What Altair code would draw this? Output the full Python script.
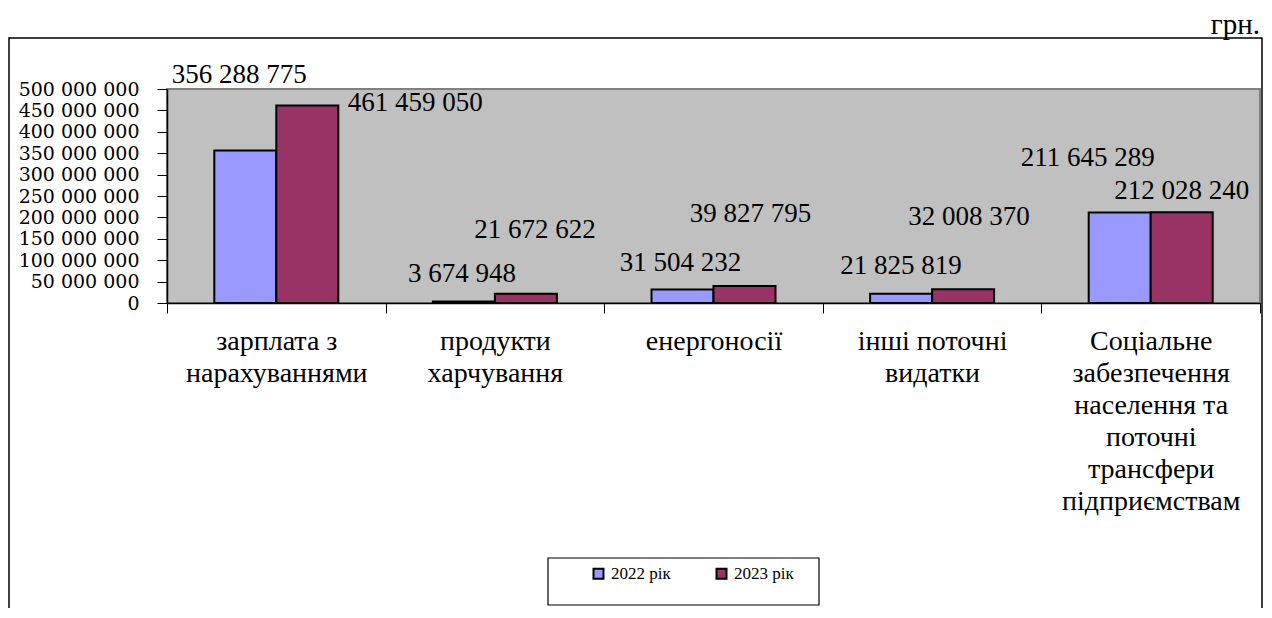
import altair as alt
import pandas as pd

# ---- data ----
categories = [
    "зарплата з\nнарахуваннями",
    "продукти\nхарчування",
    "енергоносії",
    "інші поточні\nвидатки",
    "Соціальне\nзабезпечення\nнаселення та\nпоточні\nтрансфери\nпідприємствам",
]
series = ["2022 рік", "2023 рік"]
values_2022 = [356288775, 3674948, 31504232, 21825819, 211645289]
values_2023 = [461459050, 21672622, 39827795, 32008370, 212028240]
y_ticks = [0, 50000000, 100000000, 150000000, 200000000, 250000000,
           300000000, 350000000, 400000000, 450000000, 500000000]
unit_label = "грн."
colors = ["#9999FF", "#993366"]

rows = []
for i, c in enumerate(categories):
    for s, vals in zip(series, [values_2022, values_2023]):
        v = vals[i]
        rows.append({"cat": c, "year": s, "value": v,
                     "label": f"{v:,}".replace(",", " ")})
df = pd.DataFrame(rows)
one = pd.DataFrame({"k": [0]})

# label placement offsets (px) relative to bar top centre, order as rows
label_offsets = [(-6, -76), (108, -2), (-2, -27), (9, -64), (-2, -27),
                 (6, -72), (0, -28), (6, -72), (-32, -54), (0, -21)]

W, H = 1093, 214
FONT = "Liberation Serif, Tinos, Times New Roman, Times, DejaVu Serif, serif"
AXFONT = "DejaVu Serif, Liberation Serif, serif"

x_enc = alt.X("cat:N", sort=categories,
              scale=alt.Scale(paddingInner=0, paddingOuter=0),
              axis=alt.Axis(title=None, labelAngle=0, labelFont=FONT, labelFontSize=28,
                            labelColor="black", labelLineHeight=32, labelLimit=400,
                            labelExpr="split(datum.label, '\\n')",
                            tickBand="extent", tickSize=10, tickColor="black",
                            domainColor="black", domainWidth=1.5, labelPadding=14,
                            labelBaseline="top"))
xoff = alt.XOffset("year:N", sort=series,
                   scale=alt.Scale(paddingInner=0, paddingOuter=0.763))
y_enc = alt.Y("value:Q", scale=alt.Scale(domain=[0, 500000000], nice=False),
              axis=alt.Axis(title=None, values=y_ticks, labelFont=AXFONT, labelFontSize=19,
                            labelColor="black", labelOverlap=False, labelPadding=18,
                            tickSize=10, tickColor="black", domainColor="black",
                            domainWidth=1.5, grid=False,
                            labelExpr="replace(format(datum.value, ','), regexp(',', 'g'), ' ')"))

frame = alt.Chart(one).mark_rect(fillOpacity=0, stroke="black", strokeWidth=1.5).encode(
    x=alt.value(-158), x2=alt.value(1095), y=alt.value(-51), y2=alt.value(600))

legend_box = alt.Chart(one).mark_rect(fill="white", stroke="black", strokeWidth=1.2).encode(
    x=alt.value(381), x2=alt.value(652), y=alt.value(469), y2=alt.value(516))

bars = alt.Chart(df).mark_bar(stroke="black", strokeWidth=2).encode(
    x=x_enc, xOffset=xoff, y=y_enc,
    color=alt.Color("year:N", sort=series,
                    scale=alt.Scale(domain=series, range=colors),
                    legend=alt.Legend(title=None, orient="none", direction="horizontal",
                                      legendX=423, legendY=476, symbolType="square",
                                      symbolSize=100, symbolStrokeColor="black",
                                      symbolStrokeWidth=2, labelFont=FONT,
                                      labelFontSize=17, labelColor="black",
                                      labelOffset=4, columnPadding=41, padding=0)))

layers = [frame, legend_box, bars]
for idx, (dx, dy) in enumerate(label_offsets):
    r = rows[idx]
    t = alt.Chart(df).transform_filter(
        (alt.datum.cat == r["cat"]) & (alt.datum.year == r["year"])
    ).mark_text(dx=dx, dy=dy, align="center", baseline="middle", font=FONT,
                fontSize=27, color="black").encode(
        x=x_enc, xOffset=xoff, y=y_enc, text="label:N")
    layers.append(t)

unit = alt.Chart(one).mark_text(text=unit_label, align="right", baseline="alphabetic",
                                font=FONT, fontSize=29, color="black").encode(
    x=alt.value(1093), y=alt.value(-55))
layers.append(unit)

chart = alt.layer(*layers).properties(
    width=W, height=H,
    autosize=alt.AutoSizeParams(type="none"),
    padding={"left": 159, "top": 81, "right": 4, "bottom": 305},
    background="white",
).configure_view(fill="#C0C0C0", stroke="#808080", strokeWidth=2)

chart.save("out.html", embed_options={"renderer": "svg", "actions": False})
